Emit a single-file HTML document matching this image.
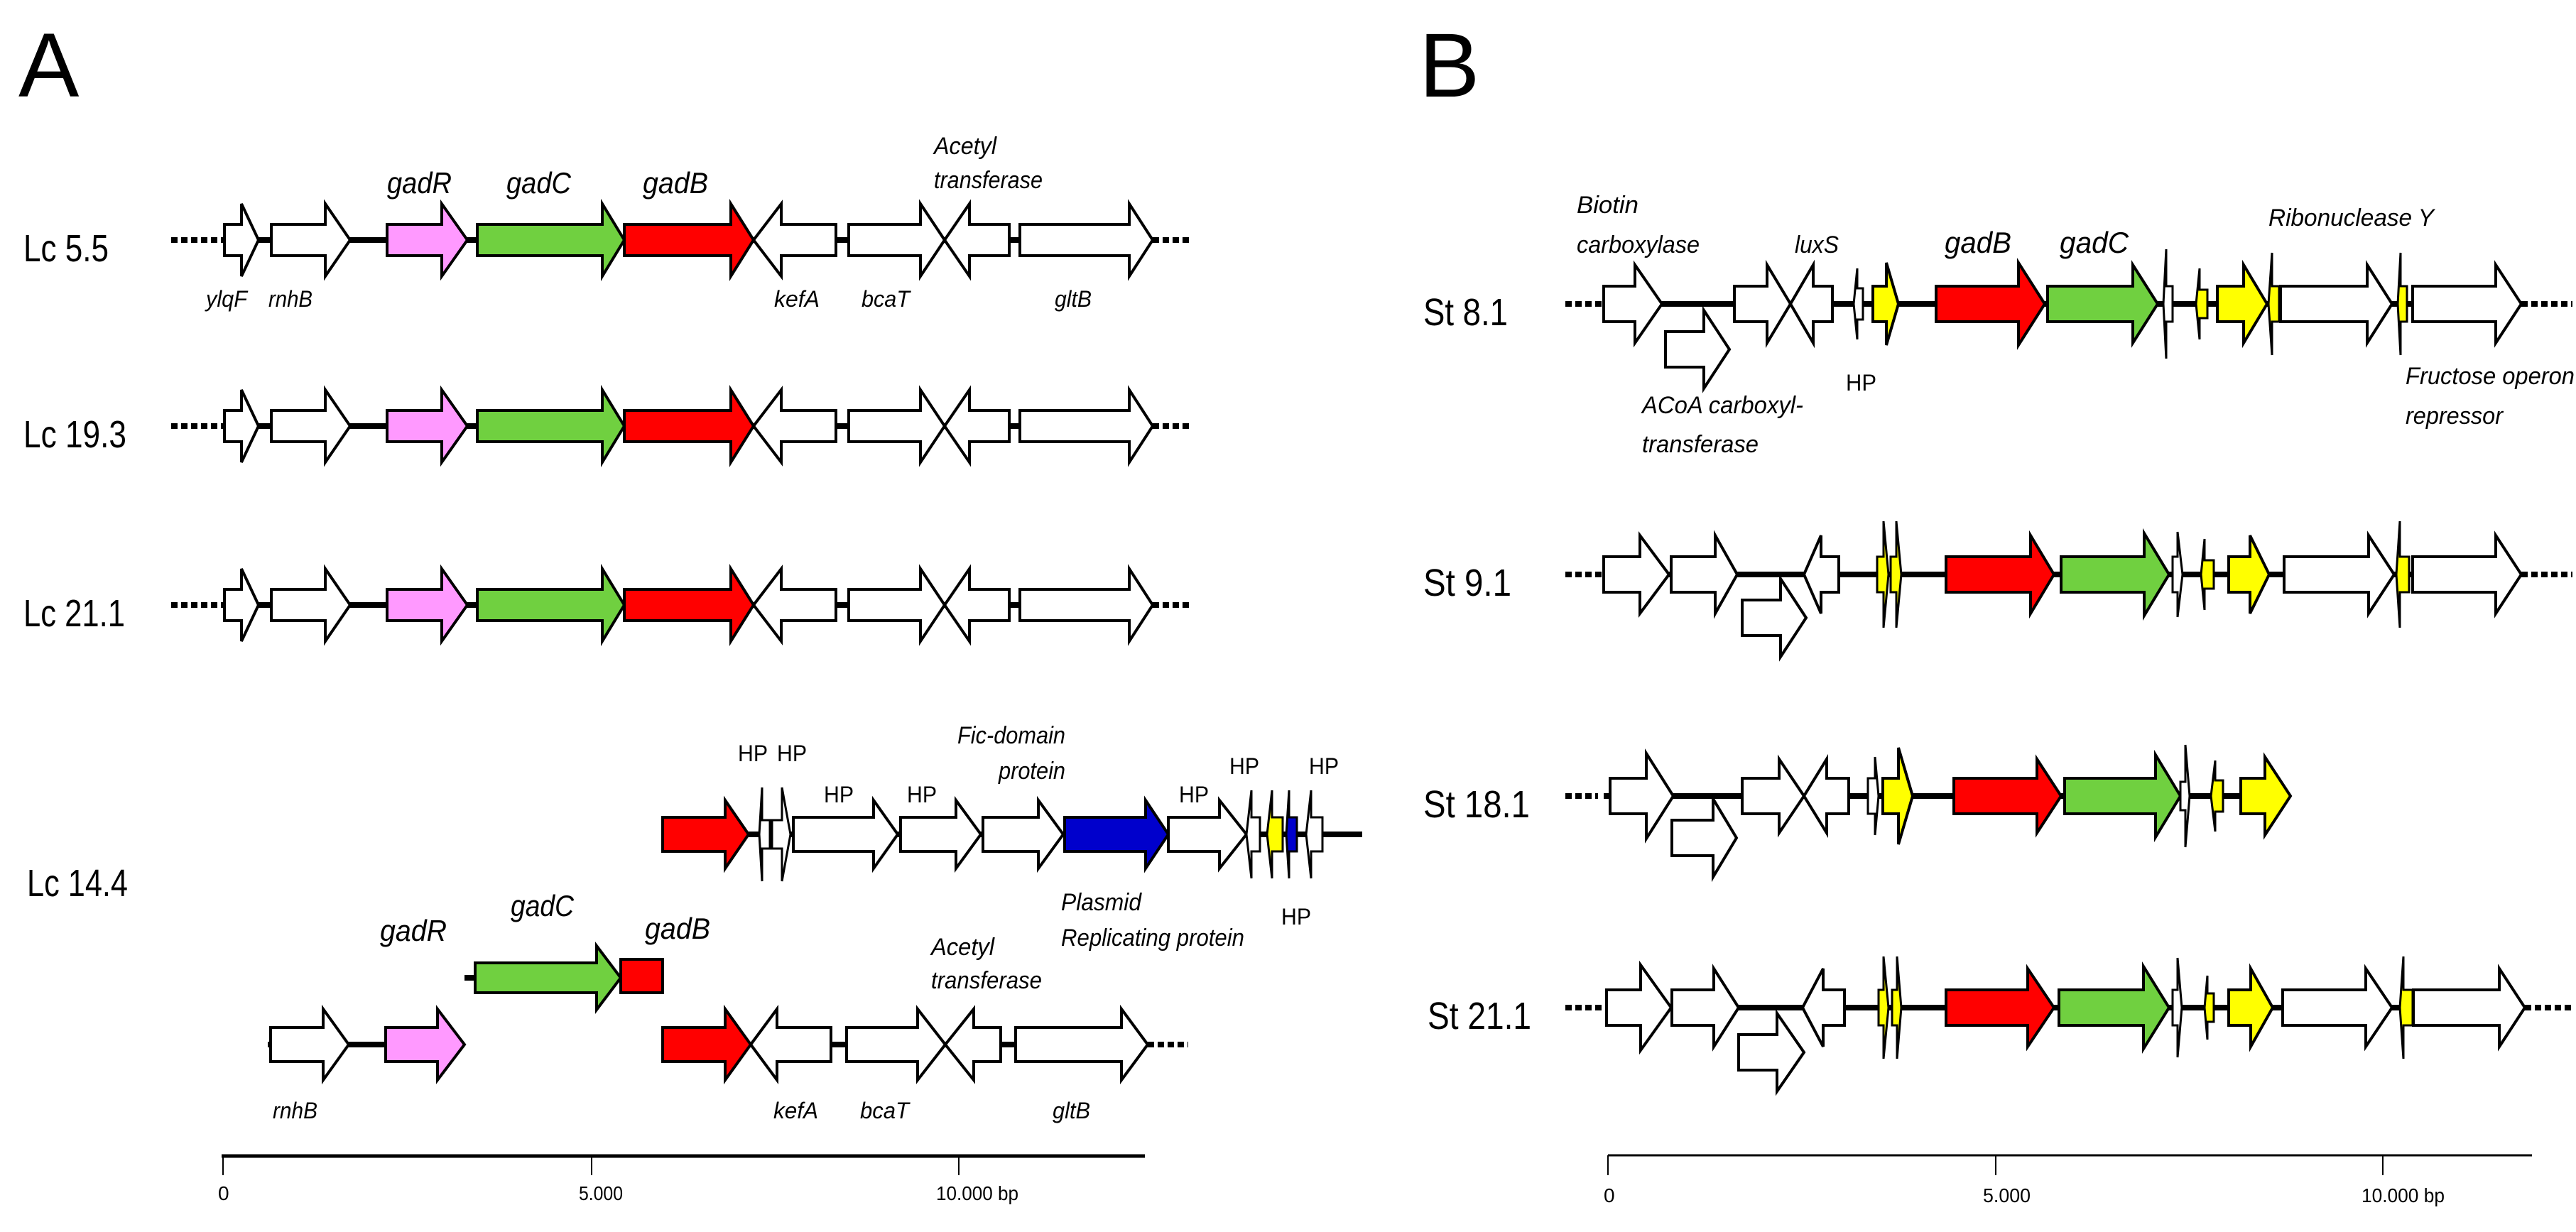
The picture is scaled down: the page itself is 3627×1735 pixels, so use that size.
<!DOCTYPE html>
<html><head><meta charset="utf-8"><style>
html,body{margin:0;padding:0;background:#fff;}
svg{display:block;}
text{font-family:"Liberation Sans",Arial,sans-serif;fill:#000;}
.i{font-style:italic;}
</style></head><body>
<svg width="3627" height="1735" viewBox="0 0 3627 1735" xmlns="http://www.w3.org/2000/svg">
<defs>
<g id="rowA">
 <line x1="312" y1="0" x2="1623" y2="0" stroke="#000" stroke-width="8"/>
 <line x1="241" y1="0" x2="312" y2="0" stroke="#000" stroke-width="8" stroke-dasharray="9,5"/>
 <line x1="1623" y1="0" x2="1678" y2="0" stroke="#000" stroke-width="8" stroke-dasharray="9,5"/>
 <g stroke="#000" stroke-width="4" stroke-linejoin="miter">
 <polygon fill="#fff" points="316,-22 340,-22 340,-51 364,0 340,51 340,22 316,22"/>
 <polygon fill="#fff" points="382,-22 458,-22 458,-51 493,0 458,51 458,22 382,22"/>
 <polygon fill="#ff99ff" points="545,-22 622,-22 622,-51 658,0 622,51 622,22 545,22"/>
 <polygon fill="#70d040" points="672,-22 848,-22 848,-51 879,0 848,51 848,22 672,22"/>
 <polygon fill="#ff0000" points="879,-22 1029,-22 1029,-51 1061,0 1029,51 1029,22 879,22"/>
 <polygon fill="#fff" points="1061,0 1100,-51 1100,-22 1177,-22 1177,22 1100,22 1100,51"/>
 <polygon fill="#fff" points="1195,-22 1296,-22 1296,-51 1330,0 1296,51 1296,22 1195,22"/>
 <polygon fill="#fff" points="1330,0 1365,-51 1365,-22 1421,-22 1421,22 1365,22 1365,51"/>
 <polygon fill="#fff" points="1436,-22 1590,-22 1590,-51 1623,0 1590,51 1590,22 1436,22"/>
 </g>
</g>
</defs>

<!-- Panel labels -->
<text x="26" y="136" font-size="128">A</text>
<text x="1998" y="136" font-size="128">B</text>

<!-- Panel A rows -->
<use href="#rowA" transform="translate(0,338)"/>
<use href="#rowA" transform="translate(0,600)"/>
<use href="#rowA" transform="translate(0,852)"/>

<text x="33" y="368" font-size="54" textLength="120" lengthAdjust="spacingAndGlyphs">Lc 5.5</text>
<text x="33" y="630" font-size="54" textLength="145" lengthAdjust="spacingAndGlyphs">Lc 19.3</text>
<text x="33" y="882" font-size="54" textLength="143" lengthAdjust="spacingAndGlyphs">Lc 21.1</text>
<text x="38" y="1262" font-size="54" textLength="142" lengthAdjust="spacingAndGlyphs">Lc 14.4</text>

<g class="i">
<text class="i" x="545" y="272" font-size="42" textLength="91" lengthAdjust="spacingAndGlyphs">gadR</text>
<text class="i" x="713" y="272" font-size="42" textLength="91" lengthAdjust="spacingAndGlyphs">gadC</text>
<text class="i" x="905" y="272" font-size="42" textLength="92" lengthAdjust="spacingAndGlyphs">gadB</text>
<text class="i" x="1315" y="217" font-size="34" textLength="88" lengthAdjust="spacingAndGlyphs">Acetyl</text>
<text class="i" x="1315" y="265" font-size="34" textLength="153" lengthAdjust="spacingAndGlyphs">transferase</text>
<text class="i" x="290" y="432" font-size="32" textLength="58" lengthAdjust="spacingAndGlyphs">ylqF</text>
<text class="i" x="378" y="432" font-size="32" textLength="62" lengthAdjust="spacingAndGlyphs">rnhB</text>
<text class="i" x="1090" y="432" font-size="32" textLength="64" lengthAdjust="spacingAndGlyphs">kefA</text>
<text class="i" x="1213" y="432" font-size="32" textLength="68" lengthAdjust="spacingAndGlyphs">bcaT</text>
<text class="i" x="1485" y="432" font-size="32" textLength="52" lengthAdjust="spacingAndGlyphs">gltB</text>
</g>

<!-- Lc 14.4 upper -->
<g transform="translate(0,1175)" stroke="#000" stroke-width="4">
 <line x1="1054" y1="0" x2="1918" y2="0" stroke-width="8"/>
 <polygon fill="#ff0000" points="933,-24 1021,-24 1021,-48 1054,0 1021,48 1021,24 933,24"/>
 <polygon fill="#fff" stroke-width="3" points="1069,0 1073,-66 1073,-20 1084,-20 1084,20 1073,20 1073,66"/>
 <polygon fill="#fff" stroke-width="3" points="1087,-20 1101,-20 1101,-66 1113,0 1101,66 1101,20 1087,20"/>
 <polygon fill="#fff" points="1117,-24 1230,-24 1230,-48 1264,0 1230,48 1230,24 1117,24"/>
 <polygon fill="#fff" points="1268,-24 1346,-24 1346,-48 1381,0 1346,48 1346,24 1268,24"/>
 <polygon fill="#fff" points="1384,-24 1462,-24 1462,-48 1497,0 1462,48 1462,24 1384,24"/>
 <polygon fill="#0000cc" points="1499,-24 1613,-24 1613,-48 1645,0 1613,48 1613,24 1499,24"/>
 <polygon fill="#fff" points="1645,-24 1717,-24 1717,-48 1755,0 1717,48 1717,24 1645,24"/>
 <polygon fill="#fff" stroke-width="3" points="1755,0 1762,-62 1762,-24 1774,-24 1774,24 1762,24 1762,62"/>
 <polygon fill="#ffff00" stroke-width="3" points="1784,0 1791,-62 1791,-24 1806,-24 1806,24 1791,24 1791,62"/>
 <polygon fill="#0000cc" stroke-width="3" points="1811,0 1815,-62 1815,-24 1826,-24 1826,24 1815,24 1815,62"/>
 <polygon fill="#fff" stroke-width="3" points="1839,0 1846,-62 1846,-24 1862,-24 1862,24 1846,24 1846,62"/>
</g>
<text x="1039" y="1072" font-size="32" textLength="42" lengthAdjust="spacingAndGlyphs">HP</text>
<text x="1094" y="1072" font-size="32" textLength="42" lengthAdjust="spacingAndGlyphs">HP</text>
<text x="1160" y="1130" font-size="32" textLength="42" lengthAdjust="spacingAndGlyphs">HP</text>
<text x="1277" y="1130" font-size="32" textLength="42" lengthAdjust="spacingAndGlyphs">HP</text>
<text x="1660" y="1130" font-size="32" textLength="42" lengthAdjust="spacingAndGlyphs">HP</text>
<text x="1731" y="1090" font-size="32" textLength="42" lengthAdjust="spacingAndGlyphs">HP</text>
<text x="1843" y="1090" font-size="32" textLength="42" lengthAdjust="spacingAndGlyphs">HP</text>
<text x="1804" y="1302" font-size="32" textLength="42" lengthAdjust="spacingAndGlyphs">HP</text>
<text class="i" x="1348" y="1047" font-size="34" textLength="152" lengthAdjust="spacingAndGlyphs">Fic-domain</text>
<text class="i" x="1406" y="1097" font-size="34" textLength="94" lengthAdjust="spacingAndGlyphs">protein</text>
<text class="i" x="1494" y="1282" font-size="34" textLength="113" lengthAdjust="spacingAndGlyphs">Plasmid</text>
<text class="i" x="1494" y="1332" font-size="34" textLength="258" lengthAdjust="spacingAndGlyphs">Replicating protein</text>

<!-- Lc 14.4 middle -->
<g stroke="#000" stroke-width="4">
 <line x1="654" y1="1377" x2="669" y2="1377" stroke-width="8"/>
 <polygon fill="#70d040" points="669,1356 840,1356 840,1332 874,1377 840,1422 840,1398 669,1398"/>
 <rect x="874" y="1351" width="59" height="47" fill="#ff0000"/>
</g>
<text class="i" x="719" y="1290" font-size="42" textLength="89" lengthAdjust="spacingAndGlyphs">gadC</text>
<text class="i" x="908" y="1322" font-size="42" textLength="92" lengthAdjust="spacingAndGlyphs">gadB</text>
<text class="i" x="535" y="1325" font-size="42" textLength="94" lengthAdjust="spacingAndGlyphs">gadR</text>

<!-- Lc 14.4 bottom -->
<g transform="translate(0,1471)" stroke="#000" stroke-width="4">
 <line x1="377" y1="0" x2="654" y2="0" stroke-width="8"/>
 <line x1="933" y1="0" x2="1616" y2="0" stroke-width="8"/>
 <line x1="1616" y1="0" x2="1673" y2="0" stroke-width="8" stroke-dasharray="9,5"/>
 <polygon fill="#fff" points="381,-24 455,-24 455,-50 491,0 455,50 455,24 381,24"/>
 <polygon fill="#ff99ff" points="543,-24 616,-24 616,-50 654,0 616,50 616,24 543,24"/>
 <polygon fill="#ff0000" points="933,-24 1021,-24 1021,-50 1057,0 1021,50 1021,24 933,24"/>
 <polygon fill="#fff" points="1057,0 1094,-50 1094,-24 1170,-24 1170,24 1094,24 1094,50"/>
 <polygon fill="#fff" points="1192,-24 1292,-24 1292,-50 1331,0 1292,50 1292,24 1192,24"/>
 <polygon fill="#fff" points="1331,0 1371,-50 1371,-24 1409,-24 1409,24 1371,24 1371,50"/>
 <polygon fill="#fff" points="1430,-24 1579,-24 1579,-50 1616,0 1579,50 1579,24 1430,24"/>
</g>
<text class="i" x="1311" y="1345" font-size="34" textLength="89" lengthAdjust="spacingAndGlyphs">Acetyl</text>
<text class="i" x="1311" y="1392" font-size="34" textLength="156" lengthAdjust="spacingAndGlyphs">transferase</text>
<text class="i" x="384" y="1575" font-size="32" textLength="63" lengthAdjust="spacingAndGlyphs">rnhB</text>
<text class="i" x="1089" y="1575" font-size="32" textLength="63" lengthAdjust="spacingAndGlyphs">kefA</text>
<text class="i" x="1211" y="1575" font-size="32" textLength="69" lengthAdjust="spacingAndGlyphs">bcaT</text>
<text class="i" x="1482" y="1575" font-size="32" textLength="53" lengthAdjust="spacingAndGlyphs">gltB</text>

<!-- Axis A -->
<g stroke="#000">
 <line x1="312" y1="1628" x2="1612" y2="1628" stroke-width="5"/>
 <line x1="314" y1="1628" x2="314" y2="1655" stroke-width="2"/>
 <line x1="833" y1="1628" x2="833" y2="1655" stroke-width="2"/>
 <line x1="1350" y1="1628" x2="1350" y2="1655" stroke-width="2"/>
</g>
<text x="307" y="1690" font-size="28">0</text>
<text x="815" y="1690" font-size="28" textLength="62" lengthAdjust="spacingAndGlyphs">5.000</text>
<text x="1318" y="1690" font-size="28" textLength="116" lengthAdjust="spacingAndGlyphs">10.000 bp</text>

<!-- Panel B -->
<text x="2004" y="458" font-size="54" textLength="119" lengthAdjust="spacingAndGlyphs">St 8.1</text>
<text x="2004" y="839" font-size="54" textLength="124" lengthAdjust="spacingAndGlyphs">St 9.1</text>
<text x="2004" y="1151" font-size="54" textLength="150" lengthAdjust="spacingAndGlyphs">St 18.1</text>
<text x="2010" y="1449" font-size="54" textLength="146" lengthAdjust="spacingAndGlyphs">St 21.1</text>

<!-- St 8.1 -->
<g transform="translate(0,428)" stroke="#000" stroke-width="4">
 <line x1="2258" y1="0" x2="3550" y2="0" stroke-width="8"/>
 <line x1="2204" y1="0" x2="2258" y2="0" stroke-width="8" stroke-dasharray="9,5"/>
 <line x1="3550" y1="0" x2="3622" y2="0" stroke-width="8" stroke-dasharray="9,5"/>
 <polygon fill="#fff" points="2258,-25 2302,-25 2302,-55 2340,0 2302,55 2302,25 2258,25"/>
 <polygon fill="#fff" points="2345,39 2399,39 2399,9 2435,64 2399,119 2399,89 2345,89"/>
 <polygon fill="#fff" points="2442,-25 2488,-25 2488,-55 2521,0 2488,55 2488,25 2442,25"/>
 <polygon fill="#fff" points="2521,0 2553,-55 2553,-25 2580,-25 2580,25 2553,25 2553,55"/>
 <polygon fill="#fff" stroke-width="3" points="2610,0 2615,-50 2615,-22 2623,-22 2623,22 2615,22 2615,50"/>
 <polygon fill="#ffff00" points="2637,-25 2656,-25 2656,-58 2673,0 2656,58 2656,25 2637,25"/>
 <polygon fill="#ff0000" points="2726,-25 2842,-25 2842,-58 2879,0 2842,58 2842,25 2726,25"/>
 <polygon fill="#70d040" points="2883,-25 3003,-25 3003,-55 3038,0 3003,55 3003,25 2883,25"/>
 <polygon fill="#fff" stroke-width="3" points="3046,0 3050,-77 3050,-25 3059,-25 3059,25 3050,25 3050,77"/>
 <polygon fill="#ffff00" stroke-width="3" points="3092,0 3097,-50 3097,-20 3108,-20 3108,20 3097,20 3097,50"/>
 <polygon fill="#ffff00" points="3122,-25 3159,-25 3159,-55 3192,0 3159,55 3159,25 3122,25"/>
 <polygon fill="#ffff00" stroke-width="3" points="3194,0 3199,-72 3199,-25 3209,-25 3209,25 3199,25 3199,72"/>
 <polygon fill="#fff" points="3211,-25 3333,-25 3333,-55 3368,0 3333,55 3333,25 3211,25"/>
 <polygon fill="#ffff00" stroke-width="3" points="3376,0 3380,-72 3380,-25 3389,-25 3389,25 3380,25 3380,72"/>
 <polygon fill="#fff" points="3397,-25 3514,-25 3514,-55 3550,0 3514,55 3514,25 3397,25"/>
</g>
<text class="i" x="2220" y="300" font-size="34" textLength="87" lengthAdjust="spacingAndGlyphs">Biotin</text>
<text class="i" x="2220" y="356" font-size="34" textLength="173" lengthAdjust="spacingAndGlyphs">carboxylase</text>
<text class="i" x="2527" y="356" font-size="34" textLength="62" lengthAdjust="spacingAndGlyphs">luxS</text>
<text class="i" x="2738" y="356" font-size="42" textLength="94" lengthAdjust="spacingAndGlyphs">gadB</text>
<text class="i" x="2900" y="356" font-size="42" textLength="97" lengthAdjust="spacingAndGlyphs">gadC</text>
<text class="i" x="3194" y="318" font-size="34" textLength="233" lengthAdjust="spacingAndGlyphs">Ribonuclease Y</text>
<text x="2599" y="550" font-size="32" textLength="43" lengthAdjust="spacingAndGlyphs">HP</text>
<text class="i" x="2312" y="582" font-size="34" textLength="227" lengthAdjust="spacingAndGlyphs">ACoA carboxyl-</text>
<text class="i" x="2312" y="637" font-size="34" textLength="164" lengthAdjust="spacingAndGlyphs">transferase</text>
<text class="i" x="3387" y="541" font-size="34" textLength="238" lengthAdjust="spacingAndGlyphs">Fructose operon</text>
<text class="i" x="3387" y="597" font-size="34" textLength="137" lengthAdjust="spacingAndGlyphs">repressor</text>

<!-- St 9.1 -->
<g transform="translate(0,809)" stroke="#000" stroke-width="4">
 <line x1="2258" y1="0" x2="3550" y2="0" stroke-width="8"/>
 <line x1="2204" y1="0" x2="2258" y2="0" stroke-width="8" stroke-dasharray="9,5"/>
 <line x1="3550" y1="0" x2="3622" y2="0" stroke-width="8" stroke-dasharray="9,5"/>
 <polygon fill="#fff" points="2258,-25 2309,-25 2309,-55 2350,0 2309,55 2309,25 2258,25"/>
 <polygon fill="#fff" points="2353,-25 2415,-25 2415,-55 2446,0 2415,55 2415,25 2353,25"/>
 <polygon fill="#fff" points="2453,36 2507,36 2507,6 2543,61 2507,116 2507,86 2453,86"/>
 <polygon fill="#fff" points="2540,0 2564,-55 2564,-25 2589,-25 2589,25 2564,25 2564,55"/>
 <polygon fill="#ffff00" stroke-width="3" points="2643,-25 2652,-25 2652,-75 2659,0 2652,75 2652,25 2643,25"/>
 <polygon fill="#ffff00" stroke-width="3" points="2662,-25 2670,-25 2670,-75 2677,0 2670,75 2670,25 2662,25"/>
 <polygon fill="#ff0000" points="2740,-25 2859,-25 2859,-55 2892,0 2859,55 2859,25 2740,25"/>
 <polygon fill="#70d040" points="2902,-25 3019,-25 3019,-58 3054,0 3019,58 3019,25 2902,25"/>
 <polygon fill="#fff" stroke-width="3" points="3059,-25 3066,-25 3066,-60 3073,0 3066,60 3066,25 3059,25"/>
 <polygon fill="#ffff00" stroke-width="3" points="3099,0 3104,-50 3104,-20 3117,-20 3117,20 3104,20 3104,50"/>
 <polygon fill="#ffff00" points="3138,-25 3168,-25 3168,-55 3195,0 3168,55 3168,25 3138,25"/>
 <polygon fill="#fff" points="3216,-25 3335,-25 3335,-55 3371,0 3335,55 3335,25 3216,25"/>
 <polygon fill="#ffff00" stroke-width="3" points="3374,0 3379,-75 3379,-25 3392,-25 3392,25 3379,25 3379,75"/>
 <polygon fill="#fff" points="3397,-25 3514,-25 3514,-55 3550,0 3514,55 3514,25 3397,25"/>
</g>

<!-- St 18.1 -->
<g transform="translate(0,1121)" stroke="#000" stroke-width="4">
 <line x1="2258" y1="0" x2="3155" y2="0" stroke-width="8"/>
 <line x1="2204" y1="0" x2="2250" y2="0" stroke-width="8" stroke-dasharray="9,5"/>
 <polygon fill="#fff" points="2267,-25 2318,-25 2318,-60 2356,0 2318,60 2318,25 2267,25"/>
 <polygon fill="#fff" points="2354,34 2412,34 2412,4 2445,59 2412,114 2412,84 2354,84"/>
 <polygon fill="#fff" points="2453,-25 2505,-25 2505,-52 2540,0 2505,52 2505,25 2453,25"/>
 <polygon fill="#fff" points="2540,0 2572,-52 2572,-25 2603,-25 2603,25 2572,25 2572,52"/>
 <polygon fill="#fff" stroke-width="3" points="2630,-25 2640,-25 2640,-55 2645,0 2640,55 2640,25 2630,25"/>
 <polygon fill="#ffff00" points="2651,-25 2673,-25 2673,-68 2693,0 2673,68 2673,25 2651,25"/>
 <polygon fill="#ff0000" points="2751,-25 2868,-25 2868,-52 2902,0 2868,52 2868,25 2751,25"/>
 <polygon fill="#70d040" points="2907,-25 3035,-25 3035,-58 3070,0 3035,58 3035,25 2907,25"/>
 <polygon fill="#fff" stroke-width="3" points="3070,-20 3077,-20 3077,-72 3083,0 3077,72 3077,20 3070,20"/>
 <polygon fill="#ffff00" stroke-width="3" points="3113,0 3119,-50 3119,-22 3130,-22 3130,22 3119,22 3119,50"/>
 <polygon fill="#ffff00" points="3155,-25 3189,-25 3189,-55 3225,0 3189,55 3189,25 3155,25"/>
</g>

<!-- St 21.1 -->
<g transform="translate(0,1419)" stroke="#000" stroke-width="4">
 <line x1="2262" y1="0" x2="3555" y2="0" stroke-width="8"/>
 <line x1="2204" y1="0" x2="2262" y2="0" stroke-width="8" stroke-dasharray="9,5"/>
 <line x1="3555" y1="0" x2="3622" y2="0" stroke-width="8" stroke-dasharray="9,5"/>
 <polygon fill="#fff" points="2262,-25 2310,-25 2310,-60 2353,0 2310,60 2310,25 2262,25"/>
 <polygon fill="#fff" points="2354,-25 2413,-25 2413,-55 2448,0 2413,55 2413,25 2354,25"/>
 <polygon fill="#fff" points="2448,38 2502,38 2502,8 2540,63 2502,118 2502,88 2448,88"/>
 <polygon fill="#fff" points="2538,0 2567,-55 2567,-25 2597,-25 2597,25 2567,25 2567,55"/>
 <polygon fill="#ffff00" stroke-width="3" points="2645,-25 2652,-25 2652,-72 2659,0 2652,72 2652,25 2645,25"/>
 <polygon fill="#ffff00" stroke-width="3" points="2664,-25 2671,-25 2671,-72 2677,0 2671,72 2671,25 2664,25"/>
 <polygon fill="#ff0000" points="2740,-25 2855,-25 2855,-55 2892,0 2855,55 2855,25 2740,25"/>
 <polygon fill="#70d040" points="2899,-25 3018,-25 3018,-58 3054,0 3018,58 3018,25 2899,25"/>
 <polygon fill="#fff" stroke-width="3" points="3059,-25 3066,-25 3066,-70 3072,0 3066,70 3066,25 3059,25"/>
 <polygon fill="#ffff00" stroke-width="3" points="3104,0 3108,-45 3108,-20 3117,-20 3117,20 3108,20 3108,45"/>
 <polygon fill="#ffff00" points="3138,-25 3169,-25 3169,-55 3200,0 3169,55 3169,25 3138,25"/>
 <polygon fill="#fff" points="3214,-25 3331,-25 3331,-55 3368,0 3331,55 3331,25 3214,25"/>
 <polygon fill="#ffff00" stroke-width="3" points="3379,0 3384,-72 3384,-25 3397,-25 3397,25 3384,25 3384,72"/>
 <polygon fill="#fff" points="3398,-25 3519,-25 3519,-55 3555,0 3519,55 3519,25 3398,25"/>
</g>

<!-- Axis B -->
<g stroke="#000">
 <line x1="2264" y1="1627" x2="3565" y2="1627" stroke-width="3"/>
 <line x1="2264" y1="1627" x2="2264" y2="1655" stroke-width="2"/>
 <line x1="2810" y1="1627" x2="2810" y2="1655" stroke-width="2"/>
 <line x1="3355" y1="1627" x2="3355" y2="1655" stroke-width="2"/>
</g>
<text x="2258" y="1693" font-size="28">0</text>
<text x="2792" y="1693" font-size="28" textLength="67" lengthAdjust="spacingAndGlyphs">5.000</text>
<text x="3325" y="1693" font-size="28" textLength="117" lengthAdjust="spacingAndGlyphs">10.000 bp</text>
</svg>
</body></html>
